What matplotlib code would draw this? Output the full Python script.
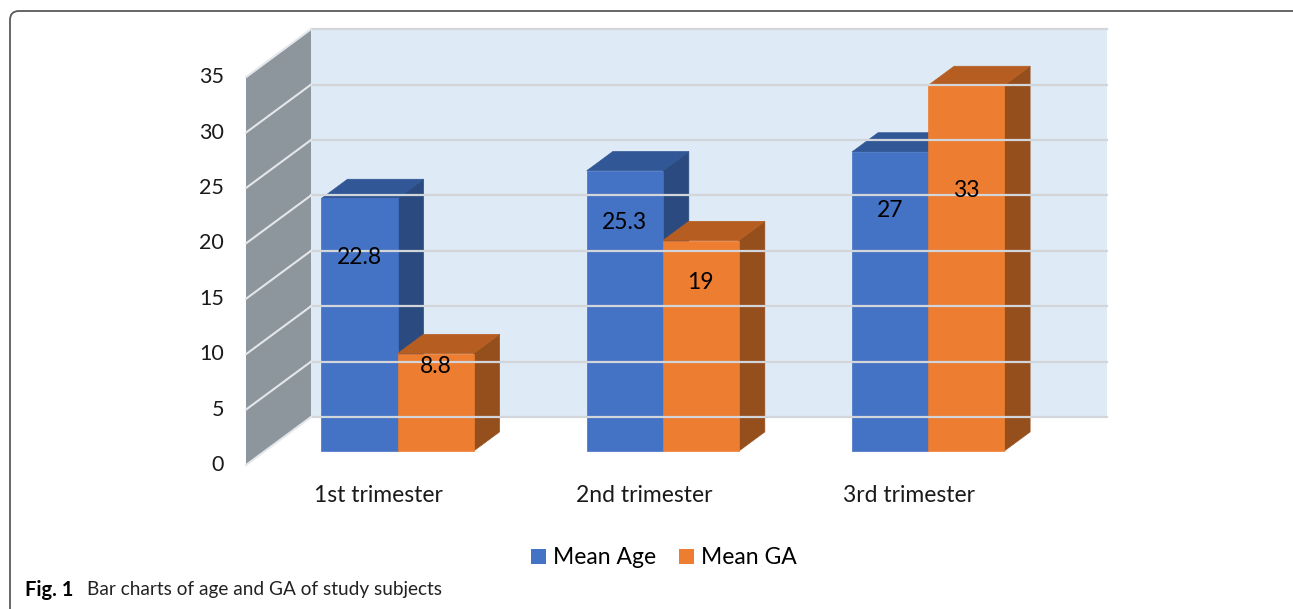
import matplotlib
matplotlib.use("Agg")
import matplotlib.pyplot as plt
from matplotlib.patches import Polygon, FancyBboxPatch, Patch

# data
categories = ["1st trimester", "2nd trimester", "3rd trimester"]
series_names = ["Mean Age", "Mean GA"]
mean_age = [22.8, 25.3, 27]
mean_ga = [8.8, 19, 33]
y_ticks = [0, 5, 10, 15, 20, 25, 30, 35]

# where Excel put the value labels (in value units above the bar base)
label_levels = [[17.5, 20.6, 21.7], [7.6, 15.2, 23.5]]

front_cols = ["#4472C4", "#ED7D31"]
top_cols = ["#315797", "#B65E22"]
side_cols = ["#2B4A80", "#954F1D"]

plt.rcParams["font.family"] = ["Lato", "DejaVu Sans"]

# fake 3D projection in pixel space
X0, Y0 = 246, 465          # front-left corner of the plot at value 0
CAT_W = 265.3              # width of one category
PX = 11.08                 # pixels per value unit
DX, DY = 65, 48            # full depth offset
BW = 0.2865                # bar width in category units
D0, D1 = 0.29, 0.69        # bar front/back depth
VMAX = 35


def proj(u, v, d):
    return (X0 + u * CAT_W + d * DX, Y0 - v * PX - d * DY)


fig = plt.figure(figsize=(12.93, 6.09), dpi=100)
ax = fig.add_axes([0, 0, 1, 1])
ax.set_xlim(0, 1293)
ax.set_ylim(609, 0)
ax.axis("off")

ncat = len(categories)

# walls
back = [proj(0, 0, 1), proj(ncat, 0, 1), proj(ncat, VMAX, 1), proj(0, VMAX, 1)]
ax.add_patch(Polygon(back, closed=True, fc="#DEEAF6", ec="none"))
side = [proj(0, 0, 0), proj(0, 0, 1), proj(0, VMAX, 1), proj(0, VMAX, 0)]
ax.add_patch(Polygon(side, closed=True, fc="#8D959D", ec="none"))

# gridlines and tick labels
for v in y_ticks:
    xa, ya = proj(0, v, 1)
    xb, yb = proj(ncat, v, 1)
    ax.plot([xa, xb], [ya, yb], color="#D2D6DA", lw=1.6)
    xf, yf = proj(0, v, 0)
    ax.plot([xf, xa], [yf, ya], color="#E4E7EA", lw=1.5)
    ax.text(xf - 22, yf, str(v), ha="right", va="center", fontsize=15.5,
            color="#1a1a1a")

# bars
for c in range(ncat):
    for s, vals in enumerate([mean_age, mean_ga]):
        v = vals[c]
        u0 = c + 0.5 + (s - 1) * BW
        u1 = u0 + BW
        sface = [proj(u1, 0, D0), proj(u1, 0, D1), proj(u1, v, D1), proj(u1, v, D0)]
        tface = [proj(u0, v, D0), proj(u1, v, D0), proj(u1, v, D1), proj(u0, v, D1)]
        fface = [proj(u0, 0, D0), proj(u1, 0, D0), proj(u1, v, D0), proj(u0, v, D0)]
        ax.add_patch(Polygon(sface, closed=True, fc=side_cols[s], ec=side_cols[s], lw=0.5))
        ax.add_patch(Polygon(tface, closed=True, fc=top_cols[s], ec=top_cols[s], lw=0.5))
        ax.add_patch(Polygon(fface, closed=True, fc=front_cols[s], ec=front_cols[s], lw=0.5))
        lx, ly = proj((u0 + u1) / 2, label_levels[s][c], D0)
        ax.text(lx, ly, f"{v:g}", ha="center", va="center", fontsize=16.5, color="black")

# category labels
for c, name in enumerate(categories):
    x, _ = proj(c + 0.5, 0, 0)
    ax.text(x, 496, name, ha="center", va="center", fontsize=16.5, color="#1a1a1a")

# legend
handles = [Patch(fc=front_cols[i], ec="none", label=series_names[i]) for i in range(2)]
fig.legend(handles=handles, loc="center", bbox_to_anchor=(664 / 1293, 1 - 558 / 609),
           ncol=2, frameon=False, fontsize=16.5, handlelength=0.65, handleheight=0.65,
           handletextpad=0.3, columnspacing=1.0, borderpad=0)

# outer frame and caption
ax.add_patch(FancyBboxPatch((10, 11), 1300, 640, boxstyle="round,pad=0,rounding_size=9",
                            fc="none", ec="#5A5A5A", lw=1.3))
fig.text(25 / 1293, 1 - 590 / 609, "Fig. 1", fontsize=14.5, fontweight="bold",
         va="center")
fig.text(87 / 1293, 1 - 590 / 609, "Bar charts of age and GA of study subjects", fontsize=13.7,
         va="center", color="#222222")

fig.savefig("out.png", dpi=100)
